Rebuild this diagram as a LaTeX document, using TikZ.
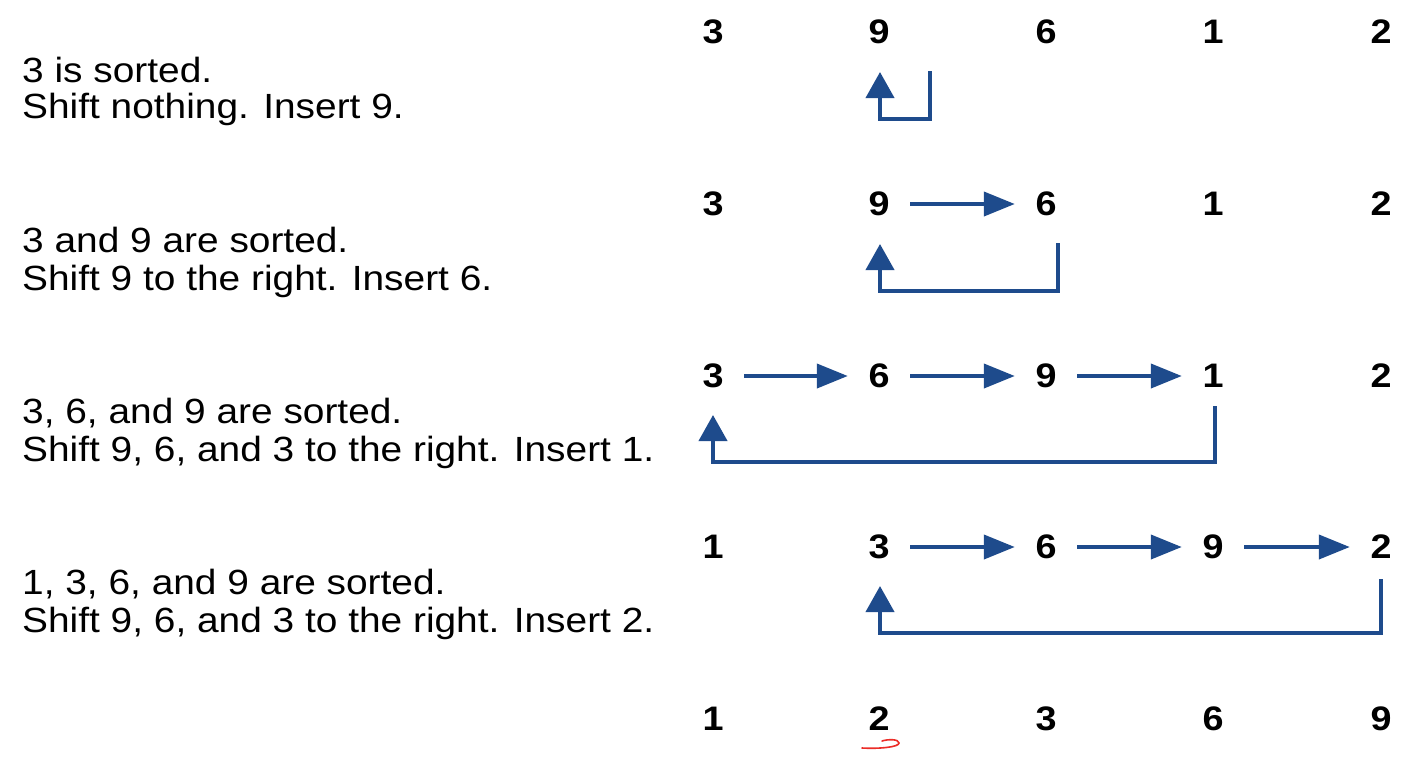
\documentclass[tikz,border=0pt]{standalone}
\usepackage{fontspec}
\usepackage{graphicx}
\setmainfont{Liberation Sans}
\usetikzlibrary{arrows.meta}
\definecolor{arrowblue}{RGB}{30,75,140}
\definecolor{markred}{RGB}{235,45,40}
\newcommand\wideA[1]{\scalebox{1.11}[1]{#1}}
\tikzset{
  num/.style={inner sep=0pt, minimum width=62pt, minimum height=24pt,
    font=\fontsize{34}{34}\selectfont\bfseries},
  lbl/.style={inner sep=0pt, anchor=base west, font=\fontsize{35}{38}\selectfont},
  harrow/.style={draw=arrowblue, line width=4pt,
    -{Triangle[length=31pt,width=24pt,fill=arrowblue]}},
  rarrow/.style={draw=arrowblue, line width=4pt,
    -{Triangle[length=26pt,width=28pt,fill=arrowblue]}},
  redscribble/.style={draw=markred, line width=1.6pt, line cap=round}
}
\begin{document}
\begin{tikzpicture}[x=1pt,y=-1pt]
\useasboundingbox (0,0) rectangle (1416,764);
% labels
\node[lbl] (t1a) at (22,82) {\wideA{3 is sorted.}};
\node[lbl] (t1b) at (22,118) {\wideA{Shift nothing. Insert 9.}};
\node[lbl] (t2a) at (22,252) {\wideA{3 and 9 are sorted.}};
\node[lbl] (t2b) at (22,290) {\wideA{Shift 9 to the right. Insert 6.}};
\node[lbl] (t3a) at (22,423) {\wideA{3, 6, and 9 are sorted.}};
\node[lbl] (t3b) at (22,461) {\wideA{Shift 9, 6, and 3 to the right. Insert 1.}};
\node[lbl] (t4a) at (22,594) {\wideA{1, 3, 6, and 9 are sorted.}};
\node[lbl] (t4b) at (22,632) {\wideA{Shift 9, 6, and 3 to the right. Insert 2.}};
% numbers
\foreach \r/\y/\a/\b/\c/\d/\e in {1/32/3/9/6/1/2, 2/204/3/9/6/1/2, 3/376/3/6/9/1/2, 4/547/1/3/6/9/2, 5/719/1/2/3/6/9}{
  \node[num] (r\r c1) at (713,\y) {\wideA{\a}};
  \node[num] (r\r c2) at (879,\y) {\wideA{\b}};
  \node[num] (r\r c3) at (1046,\y) {\wideA{\c}};
  \node[num] (r\r c4) at (1213,\y) {\wideA{\d}};
  \node[num] (r\r c5) at (1381,\y) {\wideA{\e}};
}
% horizontal shift arrows
\draw[harrow] (r2c2.east) -- (r2c3.west);
\draw[harrow] (r3c1.east) -- (r3c2.west);
\draw[harrow] (r3c2.east) -- (r3c3.west);
\draw[harrow] (r3c3.east) -- (r3c4.west);
\draw[harrow] (r4c2.east) -- (r4c3.west);
\draw[harrow] (r4c3.east) -- (r4c4.west);
\draw[harrow] (r4c4.east) -- (r4c5.west);
% return (insert) arrows
\coordinate (s1) at (930,71);   \coordinate (e1) at (880,72);
\coordinate (s2) at (1058,243); \coordinate (e2) at (880,244);
\coordinate (s3) at (1215,406); \coordinate (e3) at (713,415);
\coordinate (s4) at (1381,579); \coordinate (e4) at (880,586);
\draw[rarrow] (s1) -- (930,119) -| (e1);
\draw[rarrow] (s2) -- (1058,291) -| (e2);
\draw[rarrow] (s3) -- (1215,462) -| (e3);
\draw[rarrow] (s4) -- (1381,633) -| (e4);
% red hand mark under the final 2
\coordinate (m1) at (862,748);
\coordinate (m2) at (882,741);
\draw[redscribble] (m1) .. controls (880,749) and (899,747) .. (899,743)
  .. controls (899,739) and (888,739) .. (m2);
\end{tikzpicture}
\end{document}
